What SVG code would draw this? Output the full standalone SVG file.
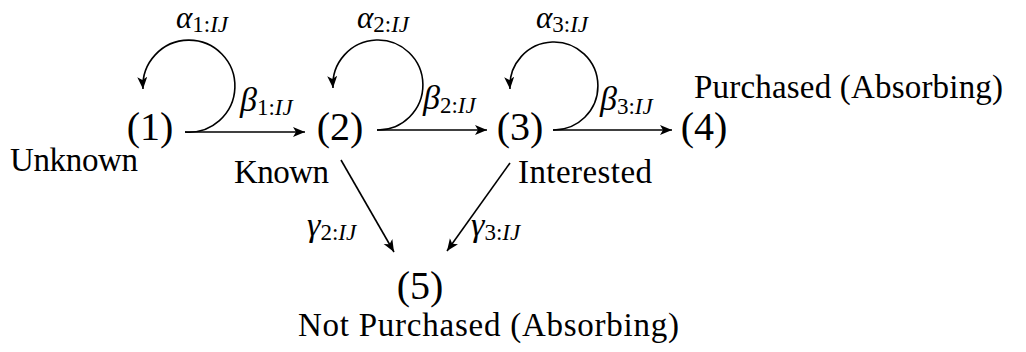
<svg xmlns="http://www.w3.org/2000/svg" width="1026" height="352" viewBox="0 0 1026 352">
  <style>
    .num { font-family: "Liberation Serif", "DejaVu Serif", serif; font-size: 40px; fill: #000; text-anchor: middle; }
    .txt { font-family: "Liberation Serif", "DejaVu Serif", serif; font-size: 33px; fill: #000; }
    .lbl { font-family: "Liberation Serif", "DejaVu Serif", serif; font-size: 34px; fill: #000; }
    .top { font-size: 31px; }
    .it { font-style: italic; }
    .sub { font-size: 23px; }
    .edge { fill: none; stroke: #000; stroke-width: 1.6; marker-end: url(#arr); }
  </style>
  <defs>
    <marker id="arr" markerUnits="userSpaceOnUse" markerWidth="14" markerHeight="12" refX="12" refY="5" orient="auto">
      <path d="M0,0 L12,5 L0,10 L3,5 z" fill="#000"/>
    </marker>
  </defs>
  <rect width="1026" height="352" fill="#fff"/>

  <g id="connectors">
    <path class="edge" d="M185,132 A46,46 0 1 0 143,89"/>
    <path class="edge" d="M185,132 L305,132"/>
    <path class="edge" d="M377,130 A45,45 0 1 0 333,88"/>
    <path class="edge" d="M377,130 L487,130"/>
    <path class="edge" d="M553,130 A44,44 0 1 0 510,89"/>
    <path class="edge" d="M553,130 L672,130"/>
    <path class="edge" d="M341,160 L394,252"/>
    <path class="edge" d="M510,163 L447,251"/>

    <text class="lbl top" x="176" y="28"><tspan class="it">α</tspan><tspan class="sub" dy="4">1:</tspan><tspan class="sub it">IJ</tspan></text>
    <text class="lbl top" x="357" y="28"><tspan class="it">α</tspan><tspan class="sub" dy="4">2:</tspan><tspan class="sub it">IJ</tspan></text>
    <text class="lbl top" x="536" y="28"><tspan class="it">α</tspan><tspan class="sub" dy="4">3:</tspan><tspan class="sub it">IJ</tspan></text>
    <text class="lbl" x="240" y="111"><tspan class="it">β</tspan><tspan class="sub" dy="4">1:</tspan><tspan class="sub it">IJ</tspan></text>
    <text class="lbl" x="423" y="109"><tspan class="it">β</tspan><tspan class="sub" dy="4">2:</tspan><tspan class="sub it">IJ</tspan></text>
    <text class="lbl" x="600" y="110"><tspan class="it">β</tspan><tspan class="sub" dy="4">3:</tspan><tspan class="sub it">IJ</tspan></text>
    <text class="lbl" x="307" y="236"><tspan class="it">γ</tspan><tspan class="sub" dy="4">2:</tspan><tspan class="sub it">IJ</tspan></text>
    <text class="lbl" x="471" y="236"><tspan class="it">γ</tspan><tspan class="sub" dy="4">3:</tspan><tspan class="sub it">IJ</tspan></text>
  </g>

  <g id="node1">
    <text class="num" x="150" y="140">(1)</text>
    <text class="txt" x="10" y="171" textLength="128">Unknown</text>
  </g>
  <g id="node2">
    <text class="num" x="340" y="140">(2)</text>
    <text class="txt" x="234" y="183" textLength="95">Known</text>
  </g>
  <g id="node3">
    <text class="num" x="520" y="140">(3)</text>
    <text class="txt" x="518" y="183" textLength="134">Interested</text>
  </g>
  <g id="node4">
    <text class="num" x="704" y="140">(4)</text>
    <text class="txt" x="694" y="98" textLength="309">Purchased (Absorbing)</text>
  </g>
  <g id="node5">
    <text class="num" x="420" y="299">(5)</text>
    <text class="txt" x="298" y="336" textLength="381">Not Purchased (Absorbing)</text>
  </g>
</svg>
